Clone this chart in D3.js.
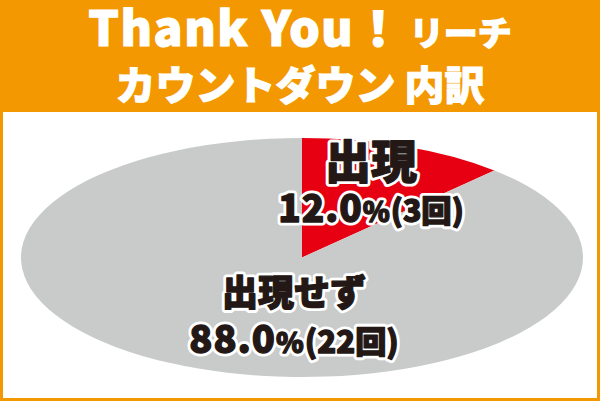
<!DOCTYPE html>
<html><head><meta charset="utf-8">
<script src="https://cdn.jsdelivr.net/npm/d3@7"></script>
<style>html,body{margin:0;padding:0;background:#fff;}svg{display:block;}</style>
</head><body>
<script>
const categories = ["出現", "出現せず"];
const values = [3, 22];
const percentLabels = ["12.0", "88.0"];
const countLabels = ["(3回)", "(22回)"];
const colors = ["#E60012", "#C9CACA"];

const W = 600, H = 401;
const svg = d3.select("body").append("svg").attr("width", W).attr("height", H);
const FONT = "'Noto Sans CJK JP','Noto Sans',sans-serif";

svg.append("rect").attr("width", W).attr("height", H).attr("fill", "#F39800");
svg.append("rect").attr("x", 3).attr("y", 112).attr("width", 594).attr("height", 286).attr("fill", "#fff");

const title = svg.append("text").attr("text-anchor", "middle").attr("font-family", FONT)
  .attr("font-weight", 900).attr("fill", "#fff").attr("stroke", "#fff").attr("stroke-width", 1.2);
title.append("tspan").attr("x", 300).attr("y", 46).attr("font-size", 48).attr("letter-spacing", 1.5).text("Thank You！");
title.append("tspan").attr("font-size", 34).attr("dx", 6).attr("letter-spacing", 0).text("リーチ");
svg.append("text").attr("text-anchor", "middle").attr("font-family", FONT)
  .attr("font-weight", 900).attr("fill", "#fff").attr("stroke", "#fff").attr("stroke-width", 1)
  .attr("x", 300).attr("y", 100).attr("font-size", 40).text("カウントダウン 内訳");

const cx = 302, cy = 257.5, rx = 281, ry = 119.5;
const pie = d3.pie().sort(null).value(d => d);
const arcs = pie(values);
const arc = d3.arc().innerRadius(0).outerRadius(ry);
svg.append("g").attr("transform", `translate(${cx},${cy}) scale(${rx / ry},1)`)
  .selectAll("path").data(arcs).join("path")
  .attr("d", arc).attr("fill", (d, i) => colors[i]);

function writeLabel(g, i, x, y1, y2, nameSize, numSize) {
  g.append("text").attr("x", x).attr("y", y1).attr("font-size", nameSize).text(categories[i]);
  const t = g.append("text").attr("x", x).attr("y", y2);
  t.append("tspan").attr("font-size", numSize).attr("letter-spacing", 1).text(percentLabels[i]);
  t.append("tspan").attr("font-size", numSize * 0.74).text("%");
  t.append("tspan").attr("font-size", numSize * 0.82).attr("dx", 1).text(countLabels[i]);
}
function label(i, x, y1, y2, nameSize, numSize) {
  const base = () => svg.append("g").attr("font-family", FONT).attr("font-weight", 900)
    .attr("text-anchor", "middle").attr("stroke-linejoin", "round");
  const back = base().attr("fill", "#fff").attr("stroke", "#fff").attr("stroke-width", 7);
  writeLabel(back, i, x, y1, y2, nameSize, numSize);
  const front = base().attr("fill", "#231815").attr("stroke", "#231815").attr("stroke-width", 1.3);
  writeLabel(front, i, x, y1, y2, nameSize, numSize);
}
label(0, 371, 178, 222, 46, 37);
label(1, 294, 306, 353, 36, 38);
</script>
</body></html>
